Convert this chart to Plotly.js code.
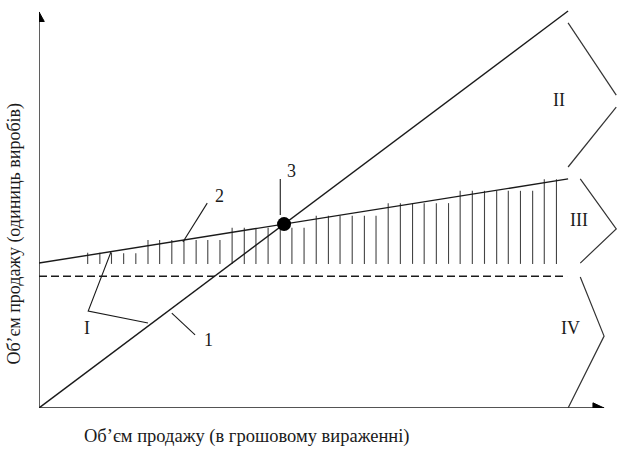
<!DOCTYPE html>
<html>
<head>
<meta charset="utf-8">
<script src="https://cdn.plot.ly/plotly-3.0.1.min.js"></script>
<style>html,body{margin:0;padding:0;background:#fff;}#chart{width:632px;height:461px;}</style>
</head>
<body>
<div id="chart"></div>
<script>
// ---- data (x: sales in money, y: sales in units, 0..100 scale) ----
const revenueX = [0, 100];
const revenueY = [0, 100];
const totalCostX = [0, 100];
const totalCostY = [36.5, 57.7];
const fixedCostX = [0, 99.8];
const fixedCostY = [33.2, 33.2];
const hatchX = [9.2, 11.5, 13.7, 16.0, 18.3, 20.6, 22.8, 25.1, 27.4, 29.7,
                31.9, 34.2, 36.5, 38.8, 41.0, 43.3, 45.6, 47.8, 50.1, 52.4,
                54.7, 56.9, 59.2, 61.5, 63.7, 66.0, 68.3, 70.6, 72.8, 75.1,
                77.4, 79.6, 81.9, 84.2, 86.5, 88.7, 91.0, 93.3, 95.5, 97.8];
const hatchTop = [39.1, 39.1, 39.1, 39.0, 39.0, 42.3, 42.3, 42.3, 42.3, 42.3,
                  42.3, 42.3, 45.4, 45.4, 45.4, 45.4, 45.4, 45.4, 45.4, 48.4,
                  48.4, 48.4, 48.4, 48.4, 48.4, 51.6, 51.6, 51.6, 51.6, 51.6,
                  51.6, 54.7, 54.7, 54.7, 54.7, 54.7, 54.7, 54.7, 57.6, 57.6];
const hatchBase = 36.3;
const axisTipX = 106.8;
const axisTipY = 99.75;

// label texts and their anchor points
const labelText = ['1', '2', '3', 'I', 'II', 'III', 'IV'];
const labelX = [32.0, 34.2, 47.8, 9.0, 98.2, 102.0, 100.4];
const labelY = [17.1, 53.4, 59.7, 20.1, 77.6, 47.4, 20.1];

// leader lines (polylines) from labels to the objects
const leaders = [
  {x: [25.1, 29.5], y: [23.9, 18.4]},             // 1
  {x: [31.8, 27.2], y: [51.6, 41.8]},             // 2
  {x: [45.6, 45.6], y: [57.7, 48.6]},             // 3
  {x: [13.6, 9.3, 20.6], y: [39.3, 24.4, 21.4]}   // I
];
// zone brackets on the right
const brackets = [
  {x: [100, 109.1], y: [97.0, 78.8]},             // II upper
  {x: [109.1, 100], y: [75.8, 60.7]},             // II lower
  {x: [102.3, 109.1, 102.3], y: [57.7, 45.1, 36.5]}, // III
  {x: [102.3, 106.8, 100], y: [33.0, 18.1, 0]}    // IV
];

const titleX = 'Об’єм продажу (в грошовому вираженні)';
const titleY = 'Об’єм продажу (одиниць виробів)';

// ---- build traces ----
const ink = '#1a1a1a';
const serif = 'Liberation Serif, Times New Roman, serif';
const hx = [], hy = [];
hatchX.forEach((x, i) => { hx.push(x, x, null); hy.push(hatchBase, hatchTop[i], null); });

// break-even point: intersection of revenue and total cost lines
const sR = (revenueY[1] - revenueY[0]) / (revenueX[1] - revenueX[0]);
const sC = (totalCostY[1] - totalCostY[0]) / (totalCostX[1] - totalCostX[0]);
const beX = (totalCostY[0] - revenueY[0]) / (sR - sC);
const beY = revenueY[0] + sR * beX;

const traces = [
  {x: hx, y: hy, mode: 'lines', line: {color: '#444', width: 1.1}, hoverinfo: 'skip'},
  {x: [0, axisTipX], y: [0, 0], mode: 'lines', line: {color: ink, width: 1.4}},
  {x: [0, 0], y: [0, axisTipY], mode: 'lines', line: {color: ink, width: 1.4}},
  {x: fixedCostX, y: fixedCostY, mode: 'lines', line: {color: ink, width: 1.4, dash: '8px,4px'}},
  {x: totalCostX, y: totalCostY, mode: 'lines', line: {color: ink, width: 1.4}},
  {x: revenueX, y: revenueY, mode: 'lines', line: {color: ink, width: 1.4}}
];
leaders.forEach(l => traces.push({x: l.x, y: l.y, mode: 'lines', line: {color: ink, width: 1.1}}));
brackets.forEach(b => traces.push({x: b.x, y: b.y, mode: 'lines', line: {color: '#333', width: 1.2}}));
traces.push({x: [beX], y: [beY], mode: 'markers', marker: {color: '#000', size: 14}});
traces.forEach(t => { t.type = 'scatter'; t.showlegend = false; t.cliponaxis = false; });

const annotations = labelText.map((t, i) => ({
  x: labelX[i], y: labelY[i], xref: 'x', yref: 'y', text: t, showarrow: false,
  xanchor: 'center', yanchor: 'middle',
  font: {family: serif, size: 18, color: ink}
}));
annotations.push({xref: 'paper', yref: 'paper', x: 0.358, y: -0.07, text: titleX, showarrow: false,
  xanchor: 'center', yanchor: 'middle',
  font: {family: serif, size: 18.5, color: ink}});
annotations.push({xref: 'paper', yref: 'paper', x: -0.0412, y: 0.435, text: titleY, showarrow: false,
  xanchor: 'center', yanchor: 'middle',
  textangle: -90, font: {family: serif, size: 18, color: ink}});

// arrowheads at the axis ends
const shapes = [
  {type: 'path', xref: 'x', yref: 'y', path: `M ${-1.0} ${axisTipY - 2.4} L 0 ${axisTipY} L 1.0 ${axisTipY - 2.4} Z`,
   fillcolor: '#000', line: {color: '#000', width: 1}},
  {type: 'path', xref: 'x', yref: 'y', path: `M ${axisTipX - 2.1} 1.3 L ${axisTipX} 0 L ${axisTipX - 2.1} -1.3 Z`,
   fillcolor: '#000', line: {color: '#000', width: 1}}
];

const layout = {
  width: 632, height: 461,
  margin: {l: 39, r: 11, t: 7, b: 53},
  paper_bgcolor: '#fff', plot_bgcolor: '#fff',
  xaxis: {range: [0, 110], visible: false, fixedrange: true},
  yaxis: {range: [0, 101], visible: false, fixedrange: true},
  annotations: annotations, shapes: shapes,
  showlegend: false
};
Plotly.newPlot('chart', traces, layout, {displayModeBar: false, staticPlot: true});
</script>
</body>
</html>
